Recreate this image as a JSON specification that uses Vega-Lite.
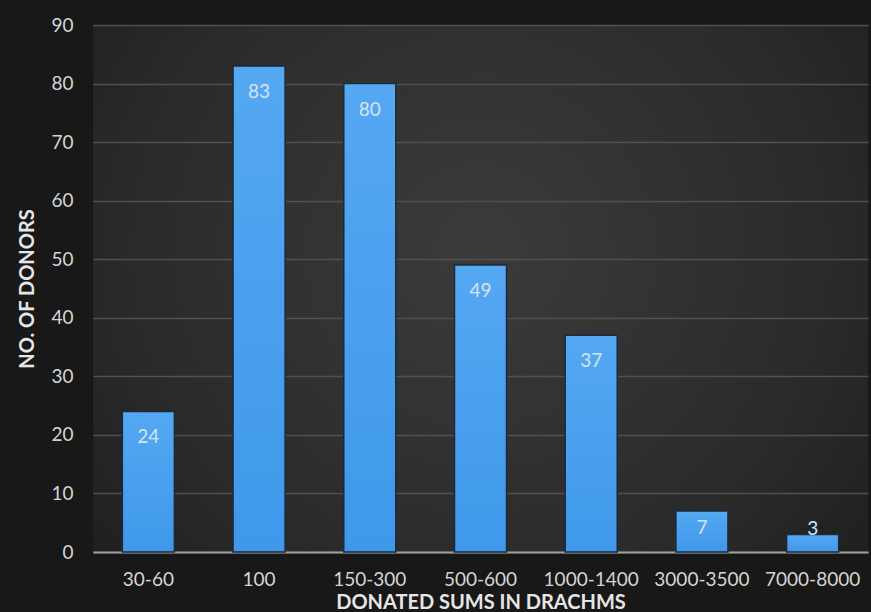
{
  "$schema": "https://vega.github.io/schema/vega-lite/v6.json",
  "width": 775,
  "height": 527,
  "autosize": {"type": "none"},
  "padding": {"left": 93, "top": 25, "right": 3, "bottom": 60},
  "background": "#181818",
  "config": {
    "font": "Lato",
    "view": {
      "stroke": null,
      "fill": {
        "gradient": "radial",
        "x1": 0.5, "y1": 0.45, "r1": 0,
        "x2": 0.5, "y2": 0.45, "r2": 0.75,
        "stops": [
          {"offset": 0, "color": "#3b3b3b"},
          {"offset": 0.6, "color": "#2a2a2a"},
          {"offset": 1, "color": "#191919"}
        ]
      }
    }
  },
  "data": {
    "values": [
      {"sum": "30-60", "donors": 24},
      {"sum": "100", "donors": 83},
      {"sum": "150-300", "donors": 80},
      {"sum": "500-600", "donors": 49},
      {"sum": "1000-1400", "donors": 37},
      {"sum": "3000-3500", "donors": 7},
      {"sum": "7000-8000", "donors": 3}
    ]
  },
  "encoding": {
    "x": {
      "field": "sum",
      "type": "nominal",
      "sort": null,
      "scale": {"paddingInner": 0.53, "paddingOuter": 0.265},
      "axis": {
        "title": "DONATED SUMS IN DRACHMS",
        "titleFontSize": 20,
        "titleFontWeight": "bold",
        "titleColor": "#e6e6e6",
        "titlePadding": 3,
        "labelAngle": 0,
        "labelFontSize": 19,
        "labelColor": "#d4d4d4",
        "labelPadding": 18,
        "ticks": false,
        "domain": true,
        "domainColor": "#a0a0a0",
        "domainWidth": 2,
        "grid": false
      }
    },
    "y": {
      "field": "donors",
      "type": "quantitative",
      "scale": {"domain": [0, 90]},
      "axis": {
        "title": "NO. OF DONORS",
        "titleFontSize": 20,
        "titleFontWeight": "bold",
        "titleColor": "#e6e6e6",
        "titlePadding": 13,
        "values": [0, 10, 20, 30, 40, 50, 60, 70, 80, 90],
        "labelFontSize": 19,
        "labelColor": "#d4d4d4",
        "labelPadding": 20,
        "ticks": false,
        "domain": false,
        "grid": true,
        "gridColor": "#505050",
        "gridWidth": 1.5
      }
    }
  },
  "layer": [
    {
      "mark": {
        "type": "bar",
        "fill": {
          "gradient": "linear",
          "x1": 0, "y1": 0, "x2": 0, "y2": 1,
          "stops": [
            {"offset": 0, "color": "#55a8f2"},
            {"offset": 1, "color": "#3f98ea"}
          ]
        },
        "stroke": "#1c2a3a",
        "strokeWidth": 1.5
      }
    },
    {
      "transform": [{"filter": "datum.donors >= 10"}],
      "mark": {"type": "text", "baseline": "middle", "dy": 26, "fontSize": 19, "color": "#d6e4f2"},
      "encoding": {"text": {"field": "donors", "type": "quantitative"}}
    },
    {
      "transform": [{"filter": "datum.donors >= 5 && datum.donors < 10"}],
      "mark": {"type": "text", "baseline": "middle", "dy": 17, "fontSize": 19, "color": "#d6e4f2"},
      "encoding": {"text": {"field": "donors", "type": "quantitative"}}
    },
    {
      "transform": [{"filter": "datum.donors < 5"}],
      "mark": {"type": "text", "baseline": "middle", "dy": -5, "fontSize": 19, "color": "#d6e4f2"},
      "encoding": {"text": {"field": "donors", "type": "quantitative"}}
    }
  ]
}
